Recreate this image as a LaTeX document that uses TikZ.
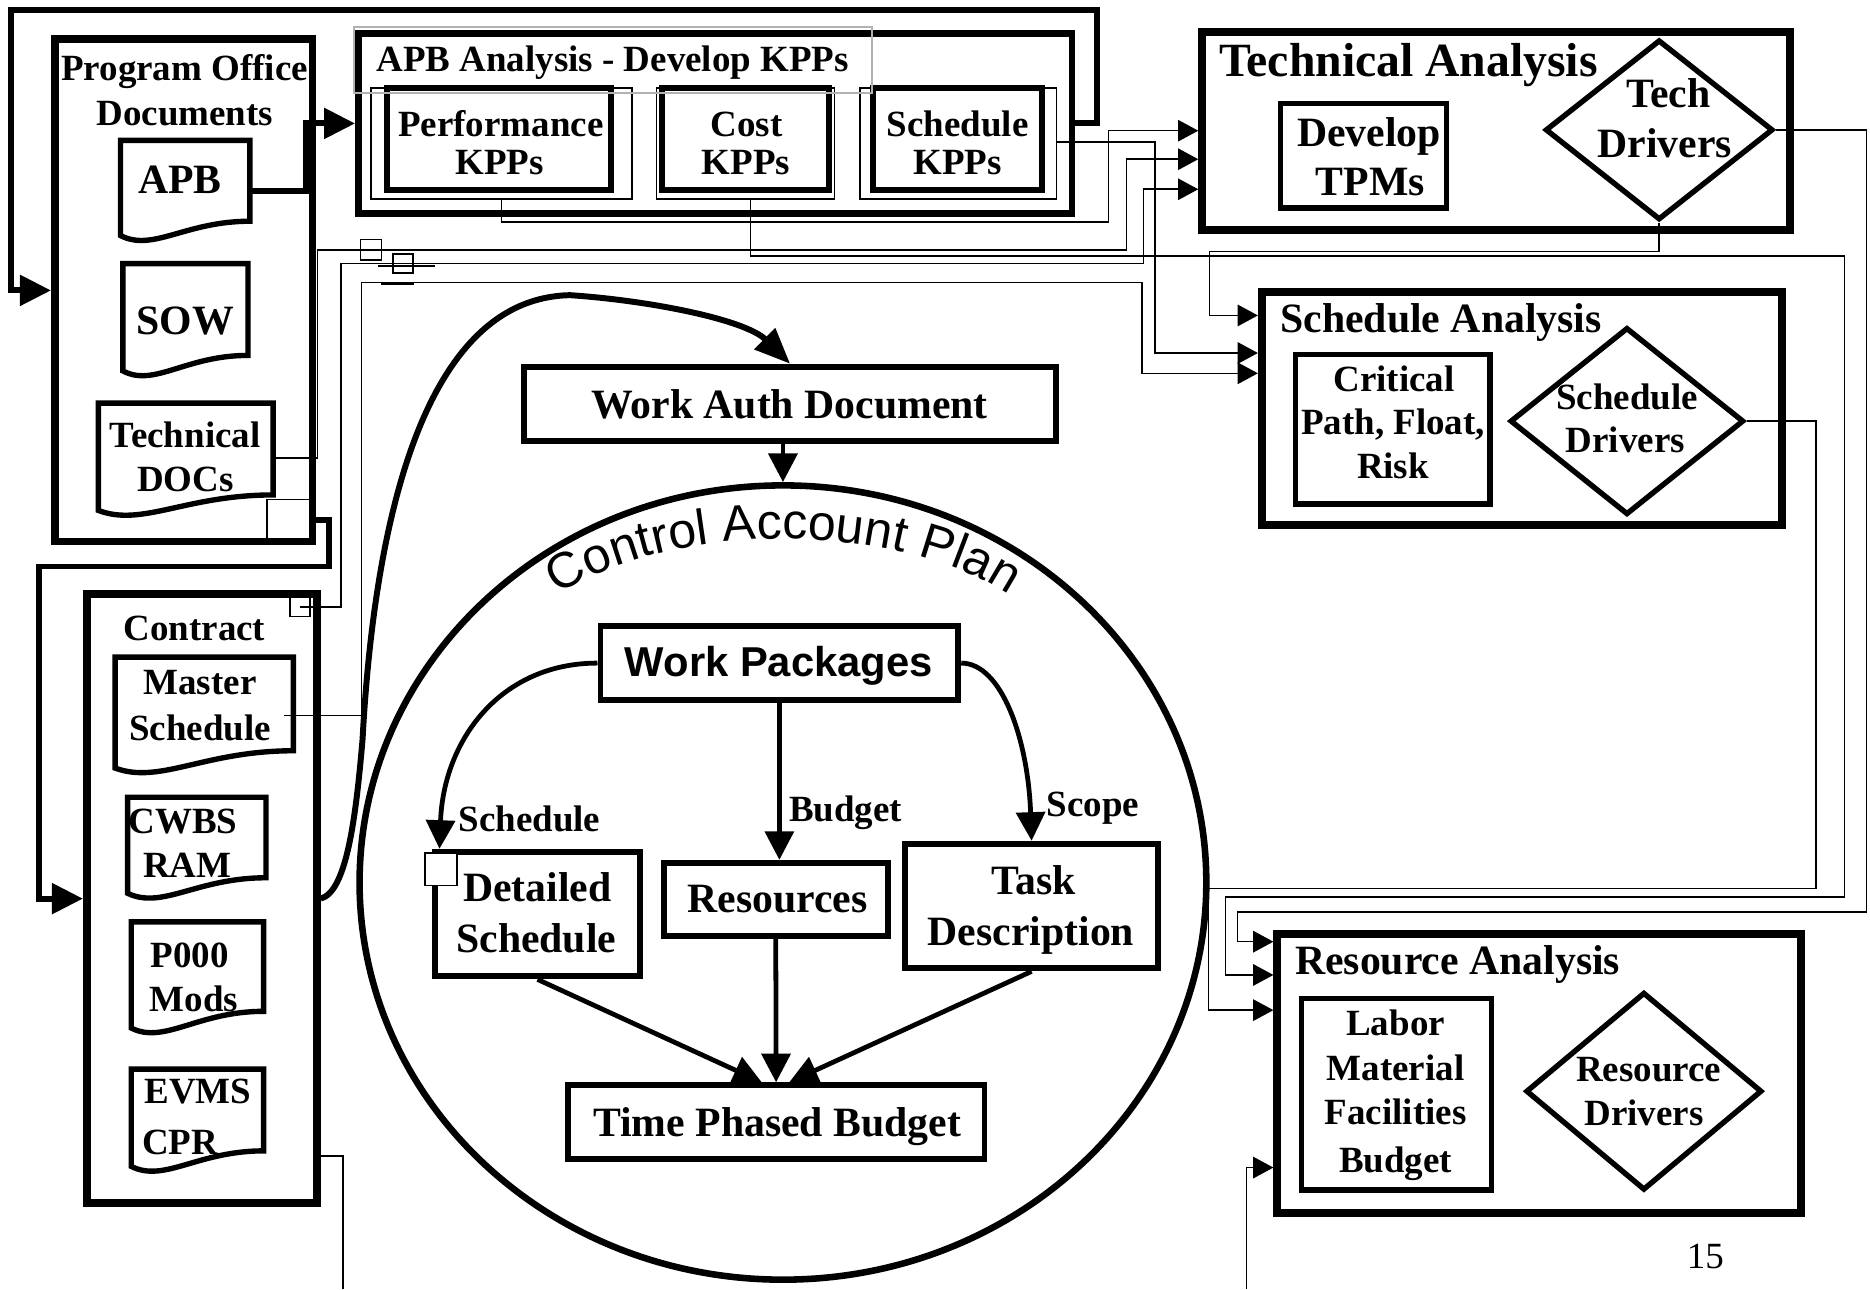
\documentclass[tikz,border=0pt]{standalone}
\usepackage{fontspec}
\setmainfont{Liberation Serif}
\newfontfamily\arialf{Liberation Sans}
\usetikzlibrary{arrows.meta,shapes.geometric,decorations.text,calc}
\newcommand\fsa{\fontsize{31}{31}\selectfont\bfseries}
\newcommand\fsb{\fontsize{35}{35}\selectfont\bfseries}
\newcommand\fsc{\fontsize{40}{40}\selectfont\bfseries}
\newcommand\fsr{\fontsize{31}{31}\selectfont}
\newcommand\fswp{\arialf\fontsize{35}{35}\selectfont\bfseries}
\newcommand\cafont{\arialf\fontsize{42}{42}\selectfont}
\newcommand\docsh[5]{\draw[docshape] (#1,#3) -- (#2,#3) -- (#2,#5) .. controls ({#1+0.5*(#2-#1)},#5) and ({#1+0.25*(#2-#1)},{#4+14}) .. (#1,#4) -- cycle;}
\begin{document}
\begin{tikzpicture}[x=1pt,y=-1pt,
  bigbox/.style={draw, rectangle, line width=6.5pt, inner sep=0pt},
  midbox/.style={draw, rectangle, line width=5pt, inner sep=0pt},
  inbox/.style={draw, rectangle, line width=4.5pt, inner sep=0pt},
  thinbox/.style={draw, rectangle, line width=1.3pt, inner sep=0pt},
  graybox/.style={draw=gray!60, rectangle, line width=1.6pt, inner sep=0pt},
  dia/.style={draw, diamond, line width=4.5pt, inner sep=0pt},
  docshape/.style={draw, line width=4.5pt},
  ta/.style={font=\fsa, inner sep=0pt, anchor=base},
  tb/.style={font=\fsb, inner sep=0pt, anchor=base},
  tc/.style={font=\fsc, inner sep=0pt, anchor=base},
  tr/.style={font=\fsr, inner sep=0pt, anchor=base},
  twp/.style={font=\fswp, inner sep=0pt, anchor=base},
  heavy/.style={line width=5pt},
  conn/.style={line width=1.3pt},
  thinarrow/.style={conn, -{Triangle[length=17pt,width=18pt]}},
  bigarrow/.style={heavy, -{Triangle[length=26pt,width=25pt]}},
  inarrow/.style={line width=4pt, -{Triangle[length=24pt,width=24pt]}}
]
\fill[white] (0,0) rectangle (1568,1081);
\useasboundingbox (0,0) rectangle (1568,1081);

% ---------- containers ----------
\node[bigbox, minimum width=216pt, minimum height=421pt] (po) at (154,243.5) {};
\node[bigbox, minimum width=192.8pt, minimum height=511pt] (contract) at (169.2,753.5) {};
\node[midbox, line width=5.5pt, minimum width=598.5pt, minimum height=151pt] (apb) at (599.75,103.5) {};
\node[bigbox, minimum width=492.6pt, minimum height=166pt] (tech) at (1254.3,110) {};
\node[bigbox, minimum width=436pt, minimum height=195pt] (schedan) at (1276,342.5) {};
\node[bigbox, minimum width=439pt, minimum height=234pt] (resan) at (1290.5,900) {};

% APB analysis inner boxes
\node[thinbox, minimum width=219pt, minimum height=93pt] (perfo) at (420.5,120.5) {};
\node[midbox, minimum width=188.2pt, minimum height=85.3pt] (perf) at (418.6,116.65) {};
\node[thinbox, minimum width=149.2pt, minimum height=93pt] (costo) at (625.1,120.5) {};
\node[midbox, minimum width=139.4pt, minimum height=85.3pt] (cost) at (625.1,116.65) {};
\node[thinbox, minimum width=164.7pt, minimum height=93pt] (scho) at (803.45,120.5) {};
\node[midbox, minimum width=141.6pt, minimum height=85.3pt] (sch) at (802.8,116.65) {};
\node[graybox, minimum width=434pt, minimum height=55pt] (apbt) at (514,50.5) {};

% analysis inner boxes and diamonds
\node[inbox, minimum width=139.5pt, minimum height=87.5pt] (tpm) at (1143.3,130.75) {};
\node[dia, minimum width=191pt, minimum height=151pt] (techdia) at (1391.2,108.9) {};
\node[inbox, minimum width=162.8pt, minimum height=125.4pt] (crit) at (1167.9,360) {};
\node[dia, minimum width=196pt, minimum height=157pt] (scheddia) at (1364.2,353.1) {};
\node[inbox, minimum width=159.4pt, minimum height=160.4pt] (labor) at (1171,917.5) {};
\node[dia, minimum width=198pt, minimum height=166pt] (resdia) at (1378.4,915) {};

% work auth and control account plan
\node[midbox, minimum width=446pt, minimum height=62.5pt] (wad) at (662.5,338.75) {};
\node[draw, ellipse, line width=5.5pt, minimum width=710pt, minimum height=666pt, inner sep=0pt] (cap) at (656.5,740) {};
\node[midbox, minimum width=300pt, minimum height=62pt] (wp) at (653.5,556) {};
\node[midbox, minimum width=171.5pt, minimum height=104.5pt] (ds) at (450.75,766.5) {};
\node[midbox, minimum width=188pt, minimum height=61.5pt] (res) at (650.5,754.25) {};
\node[midbox, minimum width=212pt, minimum height=104.5pt] (td) at (865,759.75) {};
\node[midbox, minimum width=349.5pt, minimum height=61.5pt] (tpb) at (650.75,940.75) {};

% documents
\docsh{101}{209.5}{117.7}{197.5}{185.5}
\docsh{103}{208}{221}{311}{298}
\docsh{82.5}{229}{338}{428}{415}
\docsh{96.5}{246}{551}{644}{629.5}
\docsh{107}{223}{668.5}{749}{736}
\docsh{110}{221}{773}{862}{848}
\docsh{110}{221}{896.5}{978}{965}

% ---------- small marks ----------
\node[thinbox, minimum width=17.6pt, minimum height=17pt] (sqa) at (311.2,209.5) {};
\node[thinbox, minimum width=16.8pt, minimum height=16pt] (sqb) at (338.1,221) {};
\node[thinbox, minimum width=17pt, minimum height=16pt] (csq) at (251.5,509) {};
\draw[conn] (317,223) -- (364.7,223);
\draw[line width=2.5pt] (319.6,237.6) -- (347,237.6);
\draw[conn] (224,452) -- (224,419) -- (259,419);

% ---------- heavy connectors ----------
\coordinate (apbdoc-r) at (209.5,160.5);
\draw[bigarrow] (apbdoc-r) -- (256.5,160.5) |- (apb.west);
\draw[bigarrow] (apb.east) -- (920,103.5) -- (920,8.4) -- (9,8.4) |- (po.west);
\draw[bigarrow] (po.east |- 0,436) -- (276,436) -- (276,475) -- (32.3,475) |- (contract.west);
\draw[heavy, -{Triangle[length=30pt,width=24pt]}] (contract.east) .. controls (290,748) and (298,690) .. (304,620) .. controls (312,470) and (345,250) .. (478,247.5) .. controls (545,252) and (625,268) .. (wad.north);
\draw[inarrow] (wad.south -| cap.north) -- (cap.north);

% inside the plan
\draw[inarrow] (wp.west) .. controls (420,556) and (372,620) .. ([xshift=6pt]ds.north west);
\draw[inarrow] (wp.south) -- (wp.south |- res.north);
\draw[inarrow] (wp.east) .. controls (840,556) and (862,620) .. (td.north);
\draw[inarrow] (ds.south) -- ([xshift=-12pt]tpb.north);
\draw[inarrow] (res.south) -- (tpb.north);
\draw[inarrow] (td.south) -- ([xshift=11pt]tpb.north);
\node[thinbox, fill=white, minimum width=26.6pt, minimum height=27.4pt] (dsq) at (369.7,728.9) {};

% ---------- thin connectors ----------
\coordinate (techdoc-r) at (229,384);
\draw[thinarrow] (techdoc-r) -- (266.4,384) -- (266.4,209.5) -- (944.5,209.5) |- (tech.west |- 0,133.5);
\draw[thinarrow] (csq.center) -- (286,509) -- (286,221) -- (958.7,221) |- (tech.west |- 0,158.7);
\coordinate (ms-r) at (238,600);
\draw[thinarrow] (ms-r) -- (303,600) -- (303,237) -- (957.5,237) |- (schedan.west |- 0,313);
\draw[thinarrow] (perfo.south) |- (929.5,186) |- (tech.west |- 0,109.6);
\draw[thinarrow] ([xshift=4pt]costo.south) |- (1546.6,214.5) |- (1027.5,752) |- (resan.west |- 0,817.5);
\draw[thinarrow] (scho.east |- 0,119) -- (968.5,119) |- (schedan.west |- 0,296);
\draw[thinarrow] (techdia.south) |- (1014,211) |- (schedan.west |- 0,264.5);
\draw[thinarrow] (techdia.east) -| (1565,764.5) -- (1037.5,764.5) |- (resan.west |- 0,789.6);
\draw[thinarrow] (scheddia.east) -| (1522.6,745) -- (1013.4,745) |- (resan.west |- 0,847);
\draw[conn] (contract.east |- 0,969.5) -| (287.5,1081);
\coordinate (botin) at (1045,1081);
\draw[thinarrow] (botin) |- (resan.west |- 0,979);

% ---------- curved title ----------
\coordinate (cpa-s) at (430.5,542.9);
\path[decorate, decoration={text along path, text={|\cafont|Control Account Plan}, text align=center}] (cpa-s) arc[start angle=170, end angle=10, x radius=230pt, y radius=110pt];

% ---------- texts ----------
\node[ta] (t1) at (154.8,67.5) {Program Office};
\node[ta] (t2) at (155,105) {Documents};
\node[tb] (t3) at (151,162) {APB};
\node[tb] (t4) at (155.3,280.5) {SOW};
\node[ta] (t5) at (155.2,375) {Technical};
\node[ta] (t6) at (155.5,412.5) {DOCs};
\node[ta] (t7) at (513.7,60) {APB Analysis - Develop KPPs};
\node[ta] (t8) at (420,114.6) {Performance};
\node[ta] (t9) at (419,146.7) {KPPs};
\node[ta] (t10) at (626,114.6) {Cost};
\node[ta] (t11) at (625.6,146.7) {KPPs};
\node[ta] (t12) at (803,114.6) {Schedule};
\node[ta] (t13) at (803,146.7) {KPPs};
\node[tc] (t14) at (1181,64.4) {Technical Analysis};
\node[tb] (t15) at (1148,122.8) {Develop};
\node[tb] (t16) at (1149,164) {TPMs};
\node[tb] (t17) at (1399,90) {Tech};
\node[tb] (t18) at (1396,131.8) {Drivers};
\node[tb] (t19) at (1208.3,278.5) {Schedule Analysis};
\node[ta] (t20) at (1168.8,328) {Critical};
\node[ta] (t21) at (1168,364) {Path, Float,};
\node[ta] (t22) at (1168,401.3) {Risk};
\node[ta] (t23) at (1364.2,343) {Schedule};
\node[ta] (t24) at (1362.8,379.8) {Drivers};
\node[tb] (t25) at (1222.3,817.5) {Resource Analysis};
\node[ta] (t26) at (1170.2,867.9) {Labor};
\node[ta] (t27) at (1170.2,905.6) {Material};
\node[ta] (t28) at (1170.2,943.3) {Facilities};
\node[ta] (t29) at (1170.2,982.8) {Budget};
\node[ta] (t30) at (1382.4,907) {Resource};
\node[ta] (t31) at (1378.6,944) {Drivers};
\node[tr] (t32) at (1430,1063.5) {15};
\node[tb] (t33) at (662,350.7) {Work Auth Document};
\node[twp] (t34) at (653,567.1) {Work Packages};
\node[tb] (t35) at (450.7,756.3) {Detailed};
\node[tb] (t36) at (449.7,799) {Schedule};
\node[tb] (t37) at (651.9,765.5) {Resources};
\node[tb] (t38) at (866.9,750) {Task};
\node[tb] (t39) at (864.5,792.8) {Description};
\node[tb] (t40) at (651.6,952.9) {Time Phased Budget};
\node[ta] (t41) at (444,697) {Schedule};
\node[ta] (t42) at (709,688.5) {Budget};
\node[ta] (t43) at (916.5,685) {Scope};
\node[ta] (t44) at (163,536.8) {Contract};
\node[ta] (t45) at (167.7,582) {Master};
\node[ta] (t46) at (167.7,621) {Schedule};
\node[ta] (t47) at (153.4,699) {CWBS};
\node[ta] (t48) at (157,736) {RAM};
\node[ta] (t49) at (159,811) {P000};
\node[ta] (t50) at (162.5,848) {Mods};
\node[ta] (t51) at (166,925) {EVMS};
\node[ta] (t52) at (151,968) {CPR};
\end{tikzpicture}
\end{document}
